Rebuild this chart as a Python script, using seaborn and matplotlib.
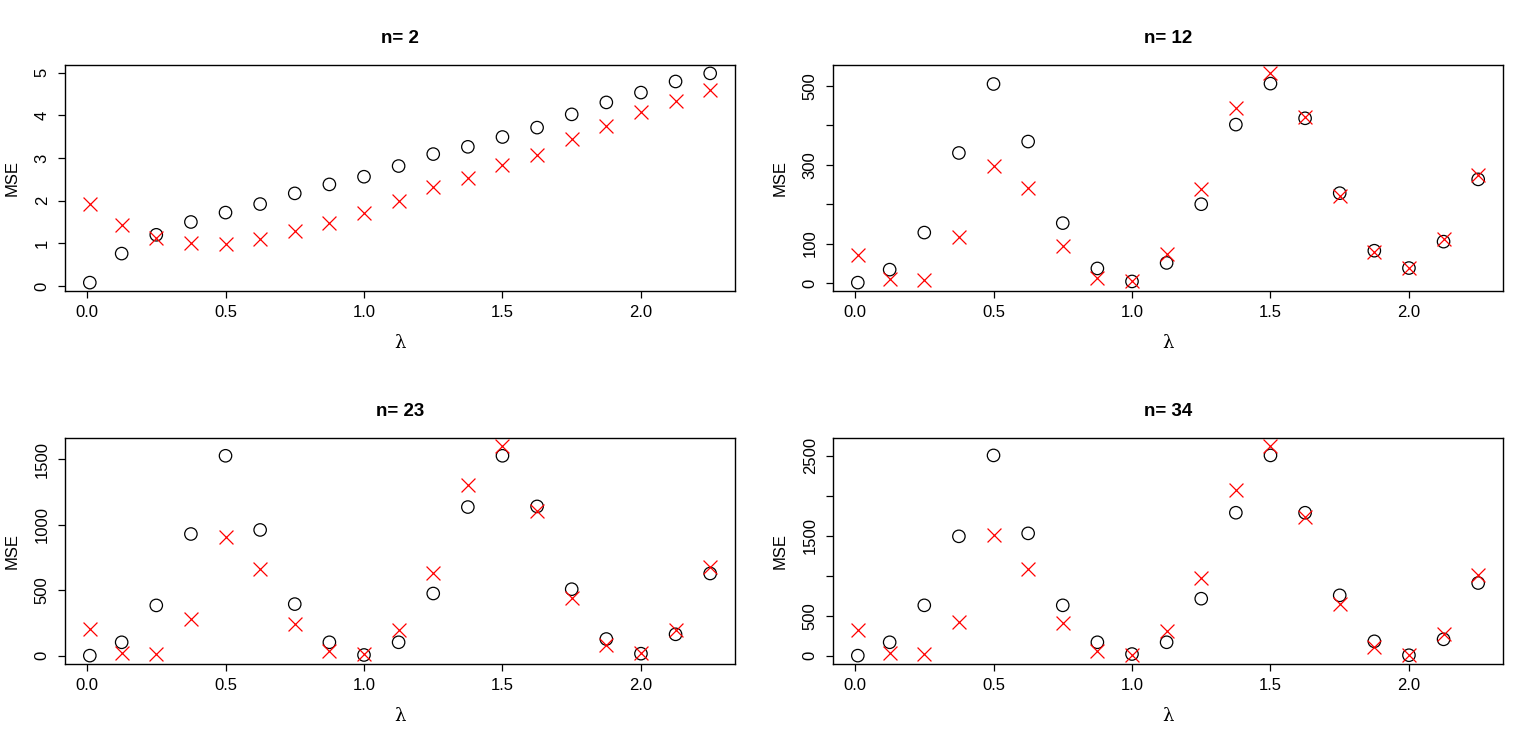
import matplotlib
matplotlib.use("Agg")
import matplotlib.pyplot as plt
import seaborn as sns
import numpy as np

# lambda grid
lam = [0.01, 0.125, 0.25, 0.375, 0.5, 0.625, 0.75, 0.875, 1.0, 1.125,
       1.25, 1.375, 1.5, 1.625, 1.75, 1.875, 2.0, 2.125, 2.25]

# n = 2
mse_o_2 = [0.08, 0.76, 1.20, 1.50, 1.72, 1.92, 2.17, 2.38, 2.56, 2.81,
           3.09, 3.26, 3.49, 3.71, 4.02, 4.30, 4.53, 4.79, 4.98]
mse_x_2 = [1.93, 1.43, 1.13, 1.00, 0.98, 1.10, 1.28, 1.48, 1.70, 2.00,
           2.32, 2.52, 2.84, 3.07, 3.45, 3.75, 4.07, 4.33, 4.59]

# n = 12
mse_o_12 = [1, 34, 128, 330, 505, 359, 152, 37, 4, 51,
            200, 402, 506, 418, 228, 82, 38, 105, 263]
mse_x_12 = [72, 10, 7, 116, 296, 240, 95, 13, 5, 74,
            238, 443, 532, 421, 222, 78, 38, 111, 274]

# n = 23
mse_o_23 = [0, 102, 384, 930, 1528, 961, 394, 102, 5, 102,
            475, 1136, 1528, 1141, 508, 127, 15, 163, 628]
mse_x_23 = [206, 20, 15, 282, 910, 666, 239, 38, 10, 198,
            631, 1302, 1600, 1106, 440, 84, 20, 198, 681]

# n = 34
mse_o_34 = [0, 167, 629, 1492, 2504, 1529, 629, 167, 20, 167,
            712, 1787, 2504, 1787, 754, 179, 5, 204, 908]
mse_x_34 = [317, 33, 25, 425, 1504, 1087, 404, 58, 10, 308,
            967, 2071, 2617, 1733, 646, 104, 8, 271, 1008]

titles = ["n= 2", "n= 12", "n= 23", "n= 34"]
y_ticks = [[0, 1, 2, 3, 4, 5],
           [0, 100, 200, 300, 400, 500],
           [0, 500, 1000, 1500],
           [0, 500, 1000, 1500, 2000, 2500]]
y_labels = [["0", "1", "2", "3", "4", "5"],
            ["0", "100", "", "300", "", "500"],
            ["0", "500", "1000", "1500"],
            ["0", "500", "", "1500", "", "2500"]]
x_ticks = [0.0, 0.5, 1.0, 1.5, 2.0]
x_labels = ["0.0", "0.5", "1.0", "1.5", "2.0"]

series = [(mse_o_2, mse_x_2), (mse_o_12, mse_x_12),
          (mse_o_23, mse_x_23), (mse_o_34, mse_x_34)]

sns.set_theme(style="white")
plt.rcParams['font.family'] = ['Liberation Sans', 'DejaVu Sans']
plt.rcParams['text.color'] = 'black'
plt.rcParams['axes.labelcolor'] = 'black'
plt.rcParams['axes.titlecolor'] = 'black'

fig = plt.figure(figsize=(15.36, 7.46), dpi=100)
W, H = 1536, 746
# axes boxes in pixels: left, top, right, bottom
boxes = [(65, 65, 735, 291), (833, 65, 1503, 291),
         (65, 438, 735, 664), (833, 438, 1503, 664)]


def r_lim(vals):
  # R style axis range: data range padded by 4% on each side
  lo, hi = min(vals), max(vals)
  pad = (hi - lo) * 0.04
  return lo - pad, hi + pad


for i, (l, t, r, b) in enumerate(boxes):
  ax = fig.add_axes([l / W, 1 - b / H, (r - l) / W, (b - t) / H])
  circ, crosses = series[i]

  sns.scatterplot(x=lam, y=circ, marker='o', s=80, facecolors='none',
                  edgecolor='black', linewidth=0.9, ax=ax, zorder=3)
  sns.scatterplot(x=lam, y=crosses, marker='x', s=100, color='red',
                  linewidth=0.9, ax=ax, zorder=4)

  ax.set_xlim(*r_lim(lam))
  ax.set_ylim(*r_lim(circ + crosses))

  ax.set_xticks(x_ticks)
  ax.set_xticklabels(x_labels)
  ax.set_yticks(y_ticks[i])
  ax.set_yticklabels(y_labels[i], rotation=90, va='center')

  ax.tick_params(axis='both', direction='out', length=5, width=0.9,
                 color='black', labelsize=12, labelcolor='black',
                 left=True, bottom=True)
  ax.tick_params(axis='x', pad=5)
  ax.tick_params(axis='y', pad=6)

  for sp in ax.spines.values():
    sp.set_color('black')
    sp.set_linewidth(1.0)

  ax.set_title(titles[i], fontsize=13.5, fontweight='bold', pad=16,
               color='black')
  ax.set_xlabel("λ", fontsize=13, family=['DejaVu Serif'], labelpad=10,
                color='black')
  ax.set_ylabel("MSE", fontsize=12, labelpad=11, color='black')
  ax.grid(False)

fig.savefig("out.png", dpi=100, facecolor='white')
